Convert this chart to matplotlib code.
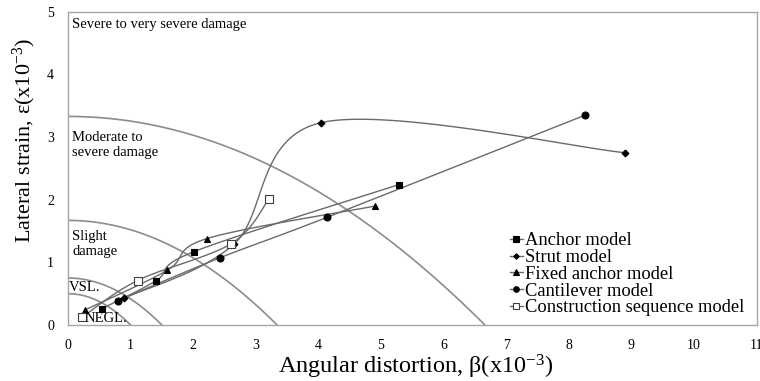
import numpy as np
import matplotlib
matplotlib.use("Agg")
import matplotlib.pyplot as plt

# ---- data (x: angular distortion x1e-3, y: lateral strain x1e-3) ----
anchor_x = [0.54, 1.41, 2.01, 5.28]
anchor_y = [0.26, 0.71, 1.17, 2.24]
strut_x = [0.90, 2.65, 4.04, 8.90]
strut_y = [0.43, 1.29, 3.23, 2.75]
fixed_x = [0.27, 1.58, 2.22, 4.91]
fixed_y = [0.24, 0.87, 1.38, 1.90]
canti_x = [0.80, 2.42, 4.14, 8.26]
canti_y = [0.39, 1.07, 1.72, 3.35]
constr_x = [0.22, 1.11, 2.61, 3.21]
constr_y = [0.12, 0.71, 1.30, 2.01]

# damage boundary limits (strain intercept at beta = 0)
limits = [0.50, 0.75, 1.67, 3.33]

xticks = list(range(0, 12))
yticks = list(range(0, 6))

plt.rcParams['font.family'] = ['Liberation Serif', 'DejaVu Serif']
plt.rcParams['mathtext.fontset'] = 'custom'
plt.rcParams['mathtext.rm'] = 'Liberation Serif'
plt.rcParams['mathtext.it'] = 'Liberation Serif:italic'

fig = plt.figure(figsize=(7.6, 3.81), dpi=100)
ax = fig.add_axes([0.0895, 0.147, 0.906, 0.822])

# boundary curves
for L in limits:
    b = np.linspace(0, 2 * L, 200)
    e = L - b ** 2 / (4 * L)
    ax.plot(b, e, color='#8c8c8c', lw=1.2, zorder=1)


def smooth(xs, ys, n=40):
    P = np.column_stack([xs, ys]).astype(float)
    P = np.vstack([P[0], P, P[-1]])
    out = []
    for i in range(1, len(P) - 2):
        p0, p1, p2, p3 = P[i - 1], P[i], P[i + 1], P[i + 2]
        c1 = p1 + (p2 - p0) / 6.0
        c2 = p2 - (p3 - p1) / 6.0
        t = np.linspace(0, 1, n)[:, None]
        seg = ((1 - t) ** 3) * p1 + 3 * ((1 - t) ** 2) * t * c1 + 3 * (1 - t) * t ** 2 * c2 + t ** 3 * p2
        out.append(seg)
    out = np.vstack(out)
    return out[:, 0], out[:, 1]


series = [
    (anchor_x, anchor_y, 's', 5, 'black', 'Anchor model'),
    (strut_x, strut_y, 'D', 3.5, 'black', 'Strut model'),
    (fixed_x, fixed_y, '^', 5, 'black', 'Fixed anchor model'),
    (canti_x, canti_y, 'o', 5, 'black', 'Cantilever model'),
    (constr_x, constr_y, 's', 6, 'white', 'Construction sequence model'),
]
lc = '#6a6a6a'
for xs, ys, m, ms, fc, lab in series:
    sx, sy = smooth(xs, ys)
    ec = 'black' if fc == 'black' else '#404040'
    ax.plot(sx, sy, color=lc, lw=1.0, zorder=2)
    ax.plot(xs, ys, ls='none', marker=m, ms=ms, mfc=fc, mec=ec, mew=0.8, zorder=3)
    ax.plot([], [], color=lc, lw=1.0, marker=m, ms=ms * 0.8, mfc=fc, mec=ec, mew=0.8, label=lab)

ax.set_xlim(0, 11)
ax.set_ylim(0, 5)
ax.set_xticks(xticks)
ax.set_yticks(yticks)
ax.tick_params(length=0, labelsize=10)
ax.tick_params(axis='x', pad=10)
ax.tick_params(axis='y', pad=10)
for s in ax.spines.values():
    s.set_color('#a6a6a6')
    s.set_linewidth(1.0)

ax.set_xlabel(r'Angular distortion, β(x10$^{\mathrm{-3}}$)', fontsize=17.5, va='center')
ax.xaxis.set_label_coords(0.505, -0.134)
ax.set_ylabel(r'Lateral strain, ε(x10$^{\mathrm{-3}}$)', fontsize=16, va='center')
ax.yaxis.set_label_coords(-0.064, 0.588)

ax.text(0.07, 4.8, 'Severe to very severe damage', fontsize=10.5, va='center')
ax.text(0.07, 2.88, 'Moderate to\nsevere damage', fontsize=10.5, va='center', linespacing=1.2)
ax.text(0.07, 1.3, 'Slight\ndamage', fontsize=10.5, va='center', linespacing=1.2)
ax.text(0.02, 0.6, 'VSL.', fontsize=10.5, va='center')
ax.text(0.27, 0.11, 'NEGL.', fontsize=10.5, va='center')

leg = ax.legend(loc='lower right', bbox_to_anchor=(0.998, -0.008), frameon=False, fontsize=13.3,
                handlelength=0.7, handletextpad=0.1, labelspacing=-0.01, borderpad=0.1)

fig.savefig('out.png', dpi=100)
